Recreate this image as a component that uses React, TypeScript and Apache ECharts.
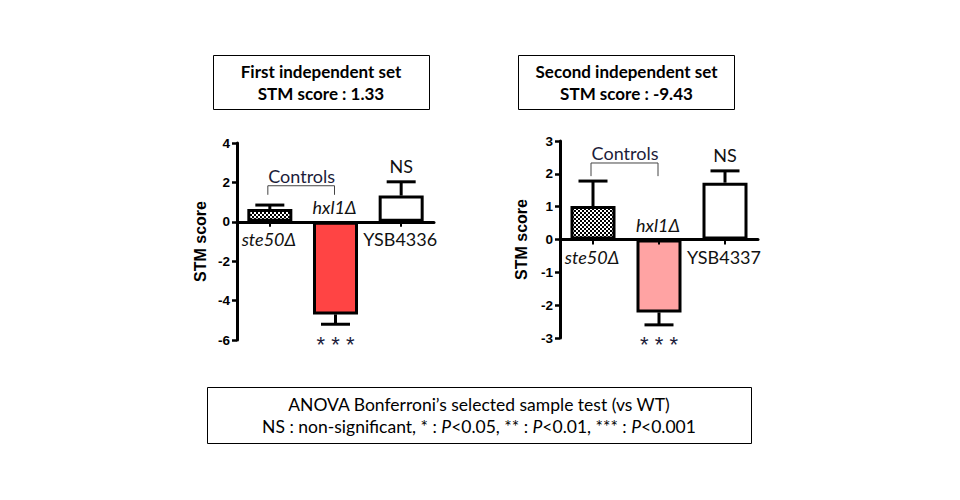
import React, { useEffect, useRef } from "react";
import * as echarts from "echarts";

// ---------- data ----------
const categories1 = ["ste50Δ", "hxl1Δ", "YSB4336"];
const values1 = [0.65, -4.7, 1.33];
const errors1 = [0.2, 0.5, 0.7];
const signif1 = ["", "* * *", "NS"];

const categories2 = ["ste50Δ", "hxl1Δ", "YSB4337"];
const values2 = [1.02, -2.22, 1.73];
const errors2 = [0.76, 0.38, 0.36];
const signif2 = ["", "* * *", "NS"];

const italicCategory = [true, true, false];
const yRange1 = { min: -6, max: 4, interval: 2 };
const yRange2 = { min: -3, max: 3, interval: 1 };

const titles1 = ["First independent set", "STM score : 1.33"];
const titles2 = ["Second independent set", "STM score : -9.43"];
const footnote1 = "ANOVA Bonferroni’s selected sample test (vs WT)";
const footnote2 = "NS : non-significant, * : {i|P}<0.05, ** : {i|P}<0.01, *** : {i|P}<0.001";
const bracketLabel = "Controls";

// bracket levels (value space) per chart: [horizontal, tick bottom]
const bracketLevels1 = [1.83, 1.37];
const bracketLevels2 = [2.33, 1.93];

const FONT = "Lato, 'Open Sans', sans-serif";
const AXFONT = "'Liberation Sans', Arial, sans-serif";

function makeChecker(): HTMLCanvasElement {
  const c = document.createElement("canvas");
  c.width = 4;
  c.height = 4;
  const ctx = c.getContext("2d")!;
  ctx.fillStyle = "#ffffff";
  ctx.fillRect(0, 0, 4, 4);
  ctx.fillStyle = "#000000";
  ctx.fillRect(0, 0, 2, 2);
  ctx.fillRect(2, 2, 2, 2);
  return c;
}

function txt(x: number, y: number, text: string, extra: any = {}) {
  return {
    type: "text",
    x,
    y,
    style: {
      text,
      fill: "#111",
      fontFamily: FONT,
      fontSize: 18,
      align: "center",
      textAlign: "center",
      verticalAlign: "middle",
      textVerticalAlign: "middle",
      ...extra,
    },
  };
}

function buildSeries(
  k: number,
  cats: string[],
  vals: number[],
  errs: number[],
  sig: string[],
  barColor: string,
  checker: HTMLCanvasElement,
  bracket: number[]
) {
  const bar = {
    type: "bar",
    xAxisIndex: k,
    yAxisIndex: k,
    barWidth: 45,
    data: vals.map((v, i) => ({
      value: v,
      itemStyle: {
        color: i === 0 ? { image: checker, repeat: "repeat" } : i === 1 ? barColor : "#ffffff",
        borderColor: "#000",
        borderWidth: 3,
      },
    })),
    z: 2,
  };
  const err = {
    type: "custom",
    xAxisIndex: k,
    yAxisIndex: k,
    clip: false,
    z: 3,
    encode: { x: 0, y: 1 },
    data: vals.map((v, i) => [i, v, errs[i]]),
    renderItem: (params: any, api: any) => {
      const i = api.value(0);
      const v = api.value(1);
      const e = api.value(2);
      const dir = v >= 0 ? 1 : -1;
      const p0 = api.coord([i, v]);
      const p1 = api.coord([i, v + dir * e]);
      const cap = 29;
      return {
        type: "group",
        children: [
          { type: "line", shape: { x1: p0[0], y1: p0[1], x2: p1[0], y2: p1[1] }, style: { stroke: "#000", lineWidth: 3 } },
          { type: "line", shape: { x1: p1[0] - cap / 2, y1: p1[1], x2: p1[0] + cap / 2, y2: p1[1] }, style: { stroke: "#000", lineWidth: 3 } },
        ],
      };
    },
  };
  const labels = {
    type: "custom",
    xAxisIndex: k,
    yAxisIndex: k,
    clip: false,
    z: 4,
    encode: { x: 0, y: 1 },
    data: vals.map((v, i) => [i, v, errs[i]]),
    renderItem: (params: any, api: any) => {
      const i = api.value(0);
      const v = api.value(1);
      const e = api.value(2);
      const dir = v >= 0 ? 1 : -1;
      const z = api.coord([i, 0]);
      const end = api.coord([i, v + dir * e]);
      const children: any[] = [];
      children.push(
        txt(z[0] - 1, z[1] + (v >= 0 ? 17 : -15), cats[i], {
          fontStyle: italicCategory[i] ? "italic" : "normal",
        })
      );
      if (sig[i]) {
        if (dir > 0) {
          children.push(txt(end[0], end[1] - 16, sig[i]));
        } else {
          children.push(
            txt(end[0], end[1] + 20, sig[i], { fontSize: 22, fontFamily: AXFONT, fill: "#1c1c3a" })
          );
        }
      }
      if (i === 0) {
        const a = api.coord([0, bracket[0]]);
        const b = api.coord([1, bracket[0]]);
        const a2 = api.coord([0, bracket[1]]);
        const ls = { stroke: "#444", lineWidth: 1 };
        children.push({
          type: "polyline",
          shape: { points: [[a[0] - 2, a2[1]], [a[0] - 2, a[1]], [b[0] - 1, b[1]], [b[0] - 1, a2[1]]] },
          style: { ...ls, fill: null },
        });
        children.push(txt((a[0] + b[0]) / 2 - 1, a[1] - 10, bracketLabel, { fill: "#1c1c3a" }));
      }
      return { type: "group", children };
    },
  };
  return [bar, err, labels];
}

function axes(k: number, cats: string[], range: any, nameGap: number) {
  const xAxis = {
    type: "category",
    gridIndex: k,
    data: cats,
    z: 5,
    axisLine: { onZero: true, lineStyle: { color: "#000", width: 3 } },
    axisTick: { show: true, alignWithLabel: true, length: 5, lineStyle: { color: "#000", width: 2 } },
    axisLabel: { show: false },
    splitLine: { show: false },
  };
  const yAxis = {
    type: "value",
    gridIndex: k,
    min: range.min,
    max: range.max,
    interval: range.interval,
    name: "STM score",
    nameLocation: "middle",
    nameGap,
    nameTextStyle: { fontFamily: AXFONT, fontWeight: "bold", fontSize: 16, color: "#000" },
    axisLine: { show: true, onZero: false, lineStyle: { color: "#000", width: 3 } },
    axisTick: { show: true, length: 5, lineStyle: { color: "#000", width: 2.5 } },
    axisLabel: { fontFamily: AXFONT, fontWeight: "bold", fontSize: 13.5, color: "#000", margin: 7 },
    splitLine: { show: false },
  };
  return { xAxis, yAxis };
}

export default function App() {
  const ref = useRef<HTMLDivElement>(null);
  useEffect(() => {
    if (!ref.current) return;
    const chart = echarts.init(ref.current, null, { renderer: "svg" });
    const checker = makeChecker();
    const a1 = axes(0, categories1, yRange1, 29);
    const a2 = axes(1, categories2, yRange2, 31);
    const box = (x: number, y: number, w: number, h: number) => ({
      type: "rect",
      shape: { x, y, width: w, height: h },
      style: { fill: "#fff", stroke: "#000", lineWidth: 1 },
      z: -1,
    });
    const option: any = {
      animation: false,
      backgroundColor: "#ffffff",
      grid: [
        { left: 237, top: 143, width: 197, height: 197, outerBoundsMode: "none", containLabel: false },
        { left: 560, top: 141, width: 198, height: 197, outerBoundsMode: "none", containLabel: false },
      ],
      xAxis: [a1.xAxis, a2.xAxis],
      yAxis: [a1.yAxis, a2.yAxis],
      series: [
        ...buildSeries(0, categories1, values1, errors1, signif1, "#ff4444", checker, bracketLevels1),
        ...buildSeries(1, categories2, values2, errors2, signif2, "#ffa3a3", checker, bracketLevels2),
      ],
      graphic: [
        box(213.5, 55.5, 216, 54),
        txt(321, 71, titles1[0], { fontWeight: "bold", fontSize: 17, fill: "#000" }),
        txt(321, 93, titles1[1], { fontWeight: "bold", fontSize: 17, fill: "#000" }),
        box(518.5, 55.5, 216, 54),
        txt(626.5, 71, titles2[0], { fontWeight: "bold", fontSize: 17, fill: "#000" }),
        txt(626.5, 93, titles2[1], { fontWeight: "bold", fontSize: 17, fill: "#000" }),
        box(207.5, 387.5, 544, 56),
        txt(479, 404, footnote1, { fontSize: 17.5, fill: "#000" }),
        txt(479, 426, footnote2, {
          fontSize: 17.5,
          fill: "#000",
          rich: { i: { fontStyle: "italic", fontSize: 17.5, fontFamily: FONT, fill: "#000" } },
        }),
      ],
    };
    chart.setOption(option);
    return () => chart.dispose();
  }, []);
  return (
    <div
      ref={ref}
      style={{ position: "fixed", left: 0, top: 0, width: 960, height: 500, background: "#fff" }}
    />
  );
}
